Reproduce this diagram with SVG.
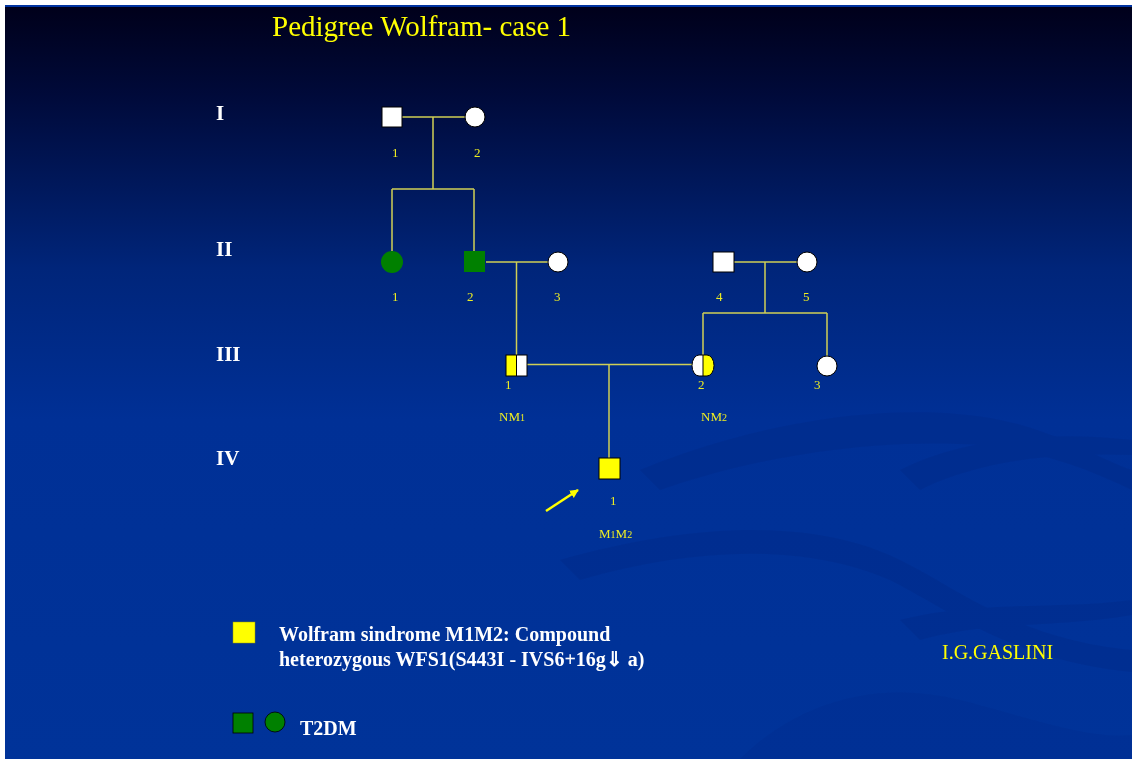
<svg xmlns="http://www.w3.org/2000/svg" width="1133" height="760" viewBox="0 0 1133 760">
<defs>
<linearGradient id="bg" x1="0" y1="0" x2="0" y2="1">
<stop offset="0" stop-color="#00001a"/>
<stop offset="0.12" stop-color="#000a3a"/>
<stop offset="0.35" stop-color="#00257a"/>
<stop offset="0.55" stop-color="#003096"/>
<stop offset="1" stop-color="#003399"/>
</linearGradient>
<marker id="ah" viewBox="0 0 10 10" refX="9" refY="5" markerWidth="3.5" markerHeight="3.5" orient="auto">
<path d="M0,0 L10,5 L0,10 z" fill="#FFFF00"/>
</marker>
<clipPath id="slide"><rect x="5" y="7" width="1127" height="752"/></clipPath>
</defs>
<style>
.ln{stroke:#CFCF55;stroke-width:1.5;fill:none}
.sym{stroke:#000;stroke-width:1}
.num{font-family:"Liberation Serif",serif;font-size:13px;fill:#EEEE22}
.gen{font-family:"Liberation Serif",serif;font-size:21px;font-weight:bold;fill:#FFFFFF}
.leg{font-family:"Liberation Serif",serif;font-size:20px;font-weight:bold;fill:#FFFFFF}
</style>
<rect x="0" y="0" width="1133" height="760" fill="#FFFFFF"/>
<rect x="5" y="5" width="1127" height="754" fill="url(#bg)"/>
<rect x="5" y="5" width="1127" height="2" fill="#0033a0"/>
<g clip-path="url(#slide)" fill="#002a85" opacity="0.35">
<path d="M640,470 C760,420 900,400 1000,420 C1060,432 1100,460 1132,470 L1132,490 C1090,470 1040,450 980,445 C880,438 760,455 660,490 Z"/>
<path d="M900,470 C960,440 1040,430 1132,440 L1132,455 C1060,452 980,460 920,490 Z"/>
<path d="M560,560 C700,520 820,520 900,560 C960,590 1020,640 1132,650 L1132,672 C1010,660 950,610 890,580 C810,545 700,545 580,580 Z"/>
<path d="M740,759 C800,700 880,680 960,700 C1030,718 1090,740 1132,735 L1132,759 Z" opacity="0.6"/>
<path d="M900,620 C980,600 1060,610 1132,600 L1132,615 C1060,628 990,620 920,640 Z"/>
</g>
<text x="272" y="36" font-family="Liberation Serif, serif" font-size="29" fill="#FFFF00">Pedigree Wolfram- case 1</text>
<g id="gen-labels">
<text class="gen" x="216" y="120">I</text>
<text class="gen" x="216" y="256">II</text>
<text class="gen" x="216" y="361">III</text>
<text class="gen" x="216" y="465">IV</text>
</g>
<g id="connectors">
<path class="ln" d="M402,117 H465"/>
<path class="ln" d="M433,117 V189 M392,189 H474 M392,189 V251 M474,189 V251"/>
<path class="ln" d="M486,262 H548"/>
<path class="ln" d="M516.5,262 V355"/>
<path class="ln" d="M734,262 H797"/>
<path class="ln" d="M765,262 V313 M703,313 H827 M703,313 V355 M827,313 V356"/>
<path class="ln" d="M527,364.5 H693"/>
<path class="ln" d="M609,364.5 V458"/>
<line x1="546" y1="511" x2="578" y2="490" stroke="#FFFF00" stroke-width="2.5" marker-end="url(#ah)"/>
</g>
<g id="I-1"><rect class="sym" x="382" y="107" width="20" height="20" fill="#FFFFFF"/><text class="num" x="392" y="157">1</text></g>
<g id="I-2"><circle class="sym" cx="475" cy="117" r="10" fill="#FFFFFF"/><text class="num" x="474" y="157">2</text></g>
<g id="II-1"><circle cx="392" cy="262" r="11" fill="#008000"/><text class="num" x="392" y="301">1</text></g>
<g id="II-2"><rect x="464" y="251" width="21" height="21" fill="#008000"/><text class="num" x="467" y="301">2</text></g>
<g id="II-3"><circle class="sym" cx="558" cy="262" r="10" fill="#FFFFFF"/><text class="num" x="554" y="301">3</text></g>
<g id="II-4"><rect class="sym" x="713" y="252" width="21" height="20" fill="#FFFFFF"/><text class="num" x="716" y="301">4</text></g>
<g id="II-5"><circle class="sym" cx="807" cy="262" r="10" fill="#FFFFFF"/><text class="num" x="803" y="301">5</text></g>
<g id="III-1">
<rect x="506" y="355" width="10.5" height="21" fill="#FFFF00"/>
<rect x="516.5" y="355" width="10.5" height="21" fill="#FFFFFF"/>
<rect class="sym" x="506" y="355" width="21" height="21" fill="none"/>
<line x1="516.5" y1="355" x2="516.5" y2="376" stroke="#000" stroke-width="1"/>
<text class="num" x="505" y="389">1</text>
<text class="num" x="499" y="421">NM<tspan font-size="10">1</tspan></text>
</g>
<g id="III-2">
<path d="M703,355 H699 A7,10.5 0 0 0 699,376 H703 Z" fill="#FFFFFF"/>
<path d="M703,355 H707 A7,10.5 0 0 1 707,376 H703 Z" fill="#FFFF00"/>
<path class="sym" d="M699,355 H707 A7,10.5 0 0 1 707,376 H699 A7,10.5 0 0 1 699,355 Z" fill="none"/>
<line x1="703" y1="355" x2="703" y2="376" stroke="#000" stroke-width="1"/>
<text class="num" x="698" y="389">2</text>
<text class="num" x="701" y="421">NM<tspan font-size="10">2</tspan></text>
</g>
<g id="III-3"><circle class="sym" cx="827" cy="366" r="10" fill="#FFFFFF"/><text class="num" x="814" y="389">3</text></g>
<g id="IV-1">
<rect class="sym" x="599" y="458" width="21" height="21" fill="#FFFF00"/>
<text class="num" x="610" y="505">1</text>
<text class="num" x="599" y="538">M<tspan font-size="10">1</tspan>M<tspan font-size="10">2</tspan></text>
</g>
<g id="legend">
<rect x="233" y="622" width="22" height="21" fill="#FFFF00" stroke="#999900" stroke-width="0.5"/>
<text class="leg" x="279" y="641">Wolfram sindrome M1M2: Compound</text>
<text class="leg" x="279" y="666">heterozygous WFS1(S443I - IVS6+16g⇓ a)</text>
<rect x="233" y="713" width="20" height="20" fill="#008000" stroke="#000" stroke-width="0.8"/>
<circle cx="275" cy="722" r="10" fill="#008000" stroke="#000" stroke-width="0.8"/>
<text class="leg" x="300" y="735">T2DM</text>
</g>
<text x="942" y="659" font-family="Liberation Serif, serif" font-size="20" fill="#FFFF00">I.G.GASLINI</text>
</svg>
